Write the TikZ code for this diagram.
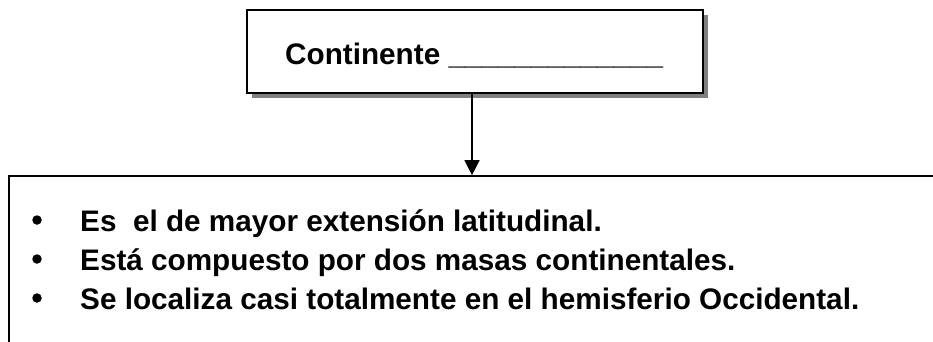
\documentclass[tikz,border=0pt]{standalone}
\usepackage{fontspec}
\setmainfont{Liberation Sans}
\usepackage{tikz}
\usetikzlibrary{arrows.meta}
\usetikzlibrary{shadows}

\begin{document}
\begin{tikzpicture}[x=1pt,y=-1pt]
	\useasboundingbox (0,0) rectangle (933,341);
	\clip (0,0) rectangle (933,341);
	\begin{scope}[every node/.style={rectangle,draw,line width=1.7pt,fill=white}]
		\node[minimum width=456pt,minimum height=83pt,
		      drop shadow={shadow xshift=5pt,shadow yshift=-5pt,fill=gray,opacity=1}] (titulo) at (475,51.5) {};
		\node[minimum width=926pt,minimum height=200pt] (lista) at (472,276) {};
	\end{scope}

	\begin{scope}[every node/.style={inner sep=0pt,font=\fontsize{29.7}{36}\selectfont\bfseries}]
		\node[anchor=base west] (nombre) at (285,64) {Continente \_\_\_\_\_\_\_\_\_\_\_\_\_};
		\foreach \texto [count=\i] in {Es\ \ el de mayor extensión latitudinal.,
		                               Está compuesto por dos masas continentales.,
		                               Se localiza casi totalmente en el hemisferio Occidental.}
		{
			\node[circle,fill,minimum size=9.5pt] (p\i) at (37,181+39*\i) {};
			\node[anchor=base west] (t\i) at (80,192+39*\i) {\texto};
		}
	\end{scope}

	\draw[line width=1.4pt,-{Triangle[length=15pt,width=15pt]}] (titulo.south -| lista.north) -- (lista.north);
\end{tikzpicture}
\end{document}
